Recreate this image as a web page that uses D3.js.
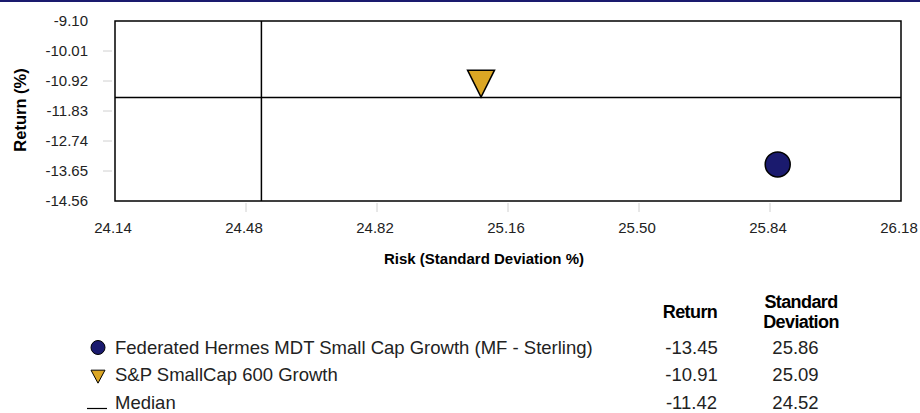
<!DOCTYPE html>
<html><head><meta charset="utf-8">
<script src="https://cdn.jsdelivr.net/npm/d3@7"></script>
<style>body{margin:0;background:#fff;font-family:Arial,"Liberation Sans",sans-serif;}</style>
</head><body><svg id="c" width="920" height="413"></svg>
<script>
const xTicks = [24.14, 24.48, 24.82, 25.16, 25.50, 25.84, 26.18];
const yTicks = [-9.10, -10.01, -10.92, -11.83, -12.74, -13.65, -14.56];
const names = ["Federated Hermes MDT Small Cap Growth (MF - Sterling)", "S&P SmallCap 600 Growth", "Median"];
const returns = [-13.45, -10.91, -11.42];
const stdevs = [25.86, 25.09, 24.52];
const colors = ["#1a1a6e", "#dba624", "#000"];

const svg = d3.select("#c");
const L = 115, R = 901, T = 21, B = 201;
const x = d3.scaleLinear().domain([24.14, 26.18]).range([L, R]);
const y = d3.scaleLinear().domain([-9.10, -14.56]).range([T, B]);

svg.append("rect").attr("x",0).attr("y",0).attr("width",920).attr("height",2).attr("fill","#1a1a6e");

const font = "Arial, 'Liberation Sans', sans-serif";
const yAxis = svg.append("g");
yTicks.forEach(v => {
  if (v !== -9.10 && v !== -14.56) {
    yAxis.append("line").attr("x1",103).attr("x2",112).attr("y1",y(v)).attr("y2",y(v)).attr("stroke","#d0d0d0").attr("stroke-width",1);
  }
  yAxis.append("text").attr("x",88).attr("y",y(v)).attr("dy","0.35em").attr("text-anchor","end")
    .attr("font-size",15).attr("fill","#222").attr("font-family",font).text(v.toFixed(2));
});
const xAxis = svg.append("g");
xTicks.forEach(v => {
  if (v !== 24.14 && v !== 26.18) {
    xAxis.append("line").attr("x1",x(v)).attr("x2",x(v)).attr("y1",203).attr("y2",212).attr("stroke","#d0d0d0").attr("stroke-width",1);
  }
  xAxis.append("text").attr("x",x(v)-2).attr("y",228).attr("dy","0.35em").attr("text-anchor","middle")
    .attr("font-size",15).attr("fill","#222").attr("font-family",font).text(v.toFixed(2));
});

svg.append("rect").attr("x",L).attr("y",T).attr("width",R-L).attr("height",B-T)
  .attr("fill","none").attr("stroke","#000").attr("stroke-width",1.5);
svg.append("line").attr("x1",x(stdevs[2])).attr("x2",x(stdevs[2])).attr("y1",T).attr("y2",B).attr("stroke","#000").attr("stroke-width",1.5);
svg.append("line").attr("x1",L).attr("x2",R).attr("y1",y(returns[2])).attr("y2",y(returns[2])).attr("stroke","#000").attr("stroke-width",1.5);

svg.append("text").attr("x",484).attr("y",259).attr("dy","0.35em").attr("text-anchor","middle")
  .attr("font-size",15).attr("font-weight","bold").attr("font-family",font).attr("fill","#000")
  .text("Risk (Standard Deviation %)");
svg.append("text").attr("transform","translate(20,110) rotate(-90)").attr("dy","0.35em").attr("text-anchor","middle")
  .attr("font-size",16.5).attr("font-weight","bold").attr("font-family",font).attr("fill","#000").text("Return (%)");

function tri(cx, cy, w, h) {
  const top = cy - h/3, bot = cy + 2*h/3;
  return `M${cx-w/2},${top}L${cx+w/2},${top}L${cx},${bot}Z`;
}
svg.append("circle").attr("cx",x(stdevs[0])).attr("cy",y(returns[0])).attr("r",12.5)
  .attr("fill",colors[0]).attr("stroke","#000").attr("stroke-width",1.5);
svg.append("path").attr("d",tri(x(stdevs[1]), y(returns[1])-1.5, 27, 27))
  .attr("fill",colors[1]).attr("stroke","#000").attr("stroke-width",1.5);

const hdr = svg.append("g").attr("font-family",font).attr("font-weight","bold").attr("font-size",18).attr("fill","#000").attr("letter-spacing","-0.6");
hdr.append("text").attr("x",690).attr("y",312).attr("dy","0.35em").attr("text-anchor","middle").text("Return");
hdr.append("text").attr("x",801).attr("y",302).attr("dy","0.35em").attr("text-anchor","middle").text("Standard");
hdr.append("text").attr("x",801).attr("y",321.5).attr("dy","0.35em").attr("text-anchor","middle").text("Deviation");

const rowsY = [347.5, 374.5, 402.5];
names.forEach((n,i) => {
  const cy = rowsY[i];
  if (i===0) svg.append("circle").attr("cx",98).attr("cy",cy).attr("r",7).attr("fill",colors[0]).attr("stroke","#000").attr("stroke-width",1);
  else if (i===1) svg.append("path").attr("d",tri(98, cy, 14, 13)).attr("fill",colors[1]).attr("stroke","#000").attr("stroke-width",1);
  else svg.append("line").attr("x1",87).attr("x2",107).attr("y1",cy+6).attr("y2",cy+6).attr("stroke","#000").attr("stroke-width",1.2);
  svg.append("text").attr("x",115).attr("y",cy).attr("dy","0.35em").attr("font-size",18.5).attr("font-family",font).attr("fill","#222").text(n);
  svg.append("text").attr("x",691.5).attr("y",cy).attr("dy","0.35em").attr("text-anchor","middle").attr("font-size",18.5).attr("font-family",font).attr("fill","#222").text(returns[i].toFixed(2));
  svg.append("text").attr("x",795.5).attr("y",cy).attr("dy","0.35em").attr("text-anchor","middle").attr("font-size",18.5).attr("font-family",font).attr("fill","#222").text(stdevs[i].toFixed(2));
});
</script></body></html>
